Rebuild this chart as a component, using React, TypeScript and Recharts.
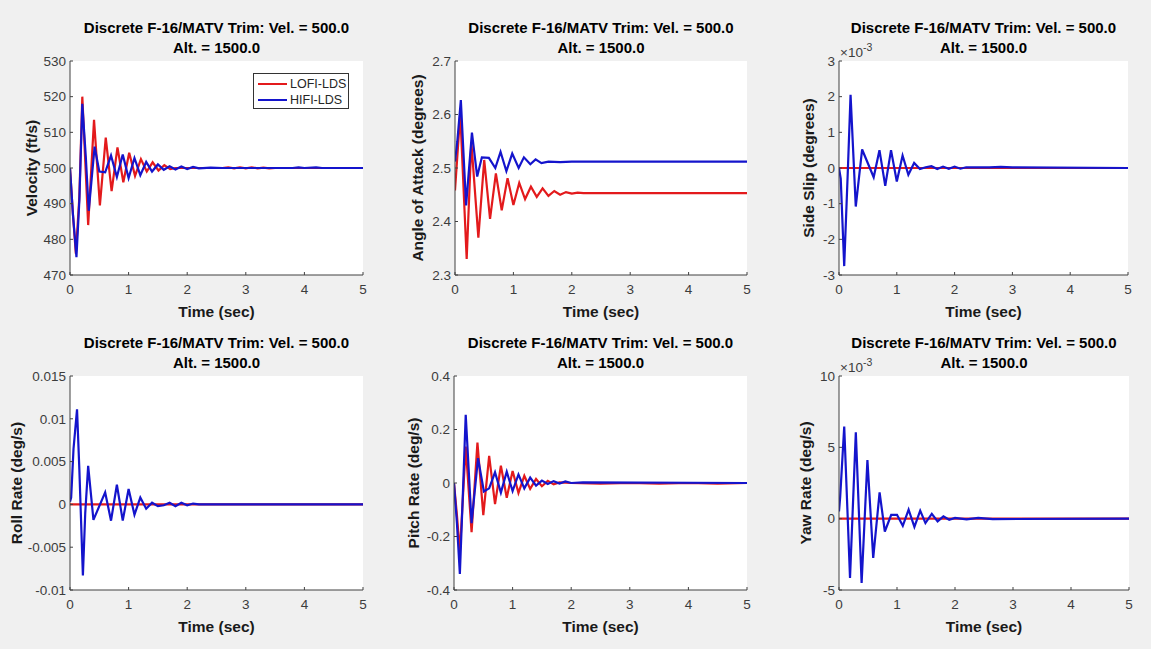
import { LineChart, Line, XAxis, YAxis } from 'recharts';

const FONT = '"Liberation Sans", Arial, Helvetica, sans-serif';
const RED = '#e31a1c';
const BLUE = '#1414cc';
const AXIS = '#404040';
const TICK_TEXT = '#3c3c3c';

const TIME_TICKS = [0, 1, 2, 3, 4, 5];
const TITLE_1 = 'Discrete F-16/MATV Trim: Vel. = 500.0';
const TITLE_2 = 'Alt. = 1500.0';

// Velocity (ft/s)
const velLofiT = [0, 0.05, 0.1, 0.16, 0.21, 0.31, 0.41, 0.51, 0.61, 0.71, 0.81, 0.91, 1.01, 1.11, 1.21, 1.31, 1.41, 1.51, 1.61, 1.71, 1.8, 2.6, 2.7, 2.8, 2.9, 3.0, 3.1, 3.2, 3.3, 3.4, 3.5, 5];
const velLofi = [500, 487, 476, 492, 520, 484, 513.5, 489.5, 508.5, 493.5, 505.8, 496, 504.3, 497.8, 502.5, 499, 501.6, 499.3, 500.8, 499.7, 500, 500, 500.2, 499.9, 500.2, 499.9, 500.2, 499.9, 500.1, 499.9, 500, 500];
const velHifiT = [0, 0.05, 0.11, 0.16, 0.21, 0.27, 0.32, 0.37, 0.42, 0.5, 0.6, 0.7, 0.8, 0.9, 1.0, 1.1, 1.2, 1.3, 1.4, 1.5, 1.6, 1.7, 1.8, 1.9, 2.0, 2.1, 2.2, 2.4, 2.6, 3.8, 3.9, 4.0, 4.2, 4.3, 5];
const velHifi = [500, 487, 475, 491, 518, 503, 488, 497, 506, 499, 498.8, 503.5, 497.5, 503.8, 497.2, 502.8, 498, 501.7, 499, 501, 499.5, 500.5, 499.6, 500.4, 499.7, 500.3, 499.9, 500.1, 500, 500, 500.2, 500, 500.2, 500, 500];
const velTicks = [470, 480, 490, 500, 510, 520, 530];

// Angle of attack (degrees)
const aoaLofiT = [0, 0.09, 0.2, 0.28, 0.4, 0.5, 0.6, 0.7, 0.8, 0.9, 1.0, 1.1, 1.2, 1.3, 1.4, 1.5, 1.6, 1.7, 1.8, 1.9, 2.0, 2.1, 2.2, 5];
const aoaLofi = [2.458, 2.602, 2.33, 2.548, 2.37, 2.515, 2.405, 2.49, 2.421, 2.481, 2.431, 2.472, 2.442, 2.465, 2.446, 2.462, 2.448, 2.457, 2.45, 2.455, 2.452, 2.454, 2.453, 2.453];
const aoaHifiT = [0, 0.04, 0.1, 0.19, 0.29, 0.38, 0.46, 0.58, 0.69, 0.78, 0.88, 0.98, 1.09, 1.18, 1.29, 1.38, 1.48, 1.6, 1.8, 2.0, 5];
const aoaHifi = [2.512, 2.55, 2.627, 2.43, 2.566, 2.484, 2.52, 2.519, 2.5, 2.53, 2.494, 2.527, 2.5, 2.52, 2.507, 2.516, 2.509, 2.512, 2.511, 2.512, 2.512];
const aoaTicks = [2.3, 2.4, 2.5, 2.6, 2.7];

// Side slip (x1e-3 degrees)
const slipLofiT = [0, 5];
const slipLofi = [0, 0];
const slipHifiT = [0, 0.03, 0.09, 0.15, 0.2, 0.29, 0.4, 0.6, 0.7, 0.8, 0.9, 1.0, 1.1, 1.2, 1.3, 1.4, 1.5, 1.6, 1.7, 1.8, 1.9, 2.0, 2.1, 2.2, 2.4, 2.6, 2.8, 3.0, 5];
const slipHifi = [0, -0.3, -2.75, -0.2, 2.05, -1.08, 0.52, -0.26, 0.5, -0.5, 0.5, -0.38, 0.35, -0.19, 0.14, -0.03, 0.02, 0.05, -0.03, 0.04, -0.02, 0.04, -0.02, 0.02, 0.02, 0.02, 0.03, 0.02, 0];
const slipTicks = [-3, -2, -1, 0, 1, 2, 3];

// Roll rate (deg/s)
const rollLofiT = [0, 5];
const rollLofi = [0, 0];
const rollHifiT = [0, 0.02, 0.06, 0.12, 0.16, 0.22, 0.26, 0.31, 0.4, 0.6, 0.7, 0.8, 0.9, 1.0, 1.1, 1.2, 1.3, 1.4, 1.5, 1.6, 1.7, 1.8, 1.9, 2.0, 2.1, 2.2, 5];
const rollHifi = [0.0003, 0.0008, 0.0065, 0.0111, 0.004, -0.0083, -0.001, 0.0045, -0.0018, 0.0014, -0.0019, 0.0023, -0.0019, 0.0018, -0.0012, 0.0008, -0.0005, 0.0002, -0.0002, -0.0001, 0.0002, -0.0002, 0.0002, -0.0001, 0.0001, 0, 0];
const rollTicks = [-0.01, -0.005, 0, 0.005, 0.01, 0.015];

// Pitch rate (deg/s)
const pitchLofiT = [0, 0.05, 0.1, 0.2, 0.3, 0.4, 0.5, 0.6, 0.7, 0.8, 0.9, 1.0, 1.1, 1.2, 1.3, 1.4, 1.5, 1.6, 1.7, 1.8, 2.0, 2.5, 3.0, 3.5, 4.0, 4.5, 5];
const pitchLofi = [0, -0.12, -0.26, 0.136, -0.184, 0.151, -0.12, 0.101, -0.079, 0.065, -0.055, 0.045, -0.037, 0.027, -0.022, 0.015, -0.012, 0.008, -0.005, 0.002, 0, -0.002, 0, -0.002, 0, -0.002, 0];
const pitchHifiT = [0, 0.05, 0.1, 0.15, 0.2, 0.3, 0.41, 0.51, 0.6, 0.7, 0.8, 0.9, 1.0, 1.1, 1.2, 1.3, 1.4, 1.5, 1.6, 1.7, 1.8, 1.9, 2.0, 2.2, 5];
const pitchHifi = [0, -0.15, -0.34, -0.05, 0.255, -0.15, 0.093, -0.032, -0.02, 0.04, -0.036, 0.042, -0.03, 0.032, -0.02, 0.02, -0.01, 0.009, -0.004, 0.007, -0.002, 0.006, 0, 0.002, 0];
const pitchTicks = [-0.4, -0.2, 0, 0.2, 0.4];

// Yaw rate (x1e-3 deg/s)
const yawLofiT = [0, 5];
const yawLofi = [0, 0];
const yawHifiT = [0, 0.02, 0.09, 0.19, 0.29, 0.39, 0.49, 0.59, 0.7, 0.79, 0.9, 1.0, 1.1, 1.2, 1.3, 1.4, 1.49, 1.6, 1.7, 1.8, 1.9, 2.0, 2.2, 2.4, 2.65, 5];
const yawHifi = [0.5, 1.5, 6.45, -4.15, 6.05, -4.5, 4.1, -2.75, 1.85, -0.9, 0.27, 0.27, -0.5, 0.63, -0.58, 0.56, -0.31, 0.34, -0.19, 0.16, -0.08, 0.05, -0.05, 0.05, -0.03, 0];
const yawTicks = [-5, 0, 5, 10];

const pts = (ts: number[], vs: number[]) => ts.map((t, i) => ({ t, v: vs[i] }));

interface Props {
  left: number;
  top: number;
  width: number;
  height: number;
  yTicks: number[];
  yFmt?: (v: number) => string;
  yLabel: string;
  yLabelGap: number;
  lofi: { t: number; v: number }[];
  hifi: { t: number; v: number }[];
  exponent?: boolean;
  legend?: boolean;
}

const ML = 70;
const MT = 61;
const MR = 10;
const MB = 50;

const tickStyle = { fill: TICK_TEXT, fontSize: 13.5, fontFamily: FONT };

const center: React.CSSProperties = {
  position: 'absolute',
  transform: 'translate(-50%, -50%)',
  whiteSpace: 'nowrap',
  fontFamily: FONT,
  lineHeight: 1,
};

const Panel = ({ left, top, width, height, yTicks, yFmt, yLabel, yLabelGap, lofi, hifi, exponent, legend }: Props) => {
  const yDomain = [yTicks[0], yTicks[yTicks.length - 1]];
  const cx = left + width / 2;
  return (
    <>
      <div style={{ position: 'absolute', left, top, width, height, background: '#fff' }} />
      <div style={{ position: 'absolute', left: left - ML, top: top - MT }}>
        <LineChart width={width + ML + MR} height={height + MT + MB} margin={{ top: MT, right: MR, bottom: 0, left: 0 }}>
          <XAxis
            xAxisId="b"
            dataKey="t"
            type="number"
            domain={[0, 5]}
            ticks={TIME_TICKS}
            interval={0}
            allowDataOverflow
            height={MB}
            tickSize={-3}
            tickMargin={12}
            stroke={AXIS}
            tick={tickStyle}
          />
          <XAxis
            xAxisId="t"
            orientation="top"
            dataKey="t"
            type="number"
            domain={[0, 5]}
            ticks={TIME_TICKS}
            interval={0}
            allowDataOverflow
            height={0}
            tickSize={-3}
            stroke={AXIS}
            tick={false}
          />
          <YAxis
            yAxisId="l"
            type="number"
            domain={yDomain}
            ticks={yTicks}
            interval={0}
            allowDataOverflow
            width={ML}
            tickSize={-3}
            tickMargin={7}
            stroke={AXIS}
            tick={tickStyle}
            tickFormatter={yFmt}
          />
          <YAxis
            yAxisId="r"
            orientation="right"
            type="number"
            domain={yDomain}
            ticks={yTicks}
            interval={0}
            allowDataOverflow
            width={0}
            tickSize={-3}
            stroke={AXIS}
            tick={false}
          />
          <Line xAxisId="b" yAxisId="l" data={lofi} dataKey="v" type="linear" stroke={RED} strokeWidth={2.2} dot={false} isAnimationActive={false} />
          <Line xAxisId="b" yAxisId="l" data={hifi} dataKey="v" type="linear" stroke={BLUE} strokeWidth={2.2} dot={false} isAnimationActive={false} />
        </LineChart>
      </div>
      <div style={{ ...center, left: cx, top: top - 34, fontSize: 15, fontWeight: 'bold', color: '#000' }}>{TITLE_1}</div>
      <div style={{ ...center, left: cx, top: top - 14, fontSize: 15, fontWeight: 'bold', color: '#000' }}>{TITLE_2}</div>
      <div
        style={{
          ...center,
          left: left - yLabelGap,
          top: top + height / 2,
          transform: 'translate(-50%, -50%) rotate(-90deg)',
          fontSize: 15.5,
          fontWeight: 'bold',
          color: '#1a1a1a',
        }}
      >
        {yLabel}
      </div>
      <div style={{ ...center, left: cx, top: top + height + 37, fontSize: 15.5, fontWeight: 'bold', color: '#1a1a1a' }}>Time (sec)</div>
      {exponent && (
        <div style={{ position: 'absolute', left: left + 1, top: top - 15, fontSize: 13.5, lineHeight: 1, color: TICK_TEXT, fontFamily: FONT, whiteSpace: 'nowrap' }}>
          ×10<span style={{ position: 'relative', top: -6, fontSize: 10.5 }}>-3</span>
        </div>
      )}
      {legend && (
        <div
          style={{
            position: 'absolute',
            left: left + 183,
            top: top + 12,
            width: 94,
            height: 34,
            background: '#fff',
            border: '1px solid #333',
            fontFamily: FONT,
            fontSize: 12.5,
            color: '#262626',
          }}
        >
          {[
            { name: 'LOFI-LDS', color: RED },
            { name: 'HIFI-LDS', color: BLUE },
          ].map((s, i) => (
            <div key={s.name} style={{ position: 'absolute', left: 4, top: 3 + i * 16, height: 14, display: 'flex', alignItems: 'center' }}>
              <span style={{ display: 'inline-block', width: 29, height: 2, background: s.color, marginRight: 3 }} />
              {s.name}
            </div>
          ))}
        </div>
      )}
    </>
  );
};

export default function App() {
  return (
    <div style={{ position: 'absolute', left: 0, top: 0, width: 1151, height: 649, background: '#f0f0f0', overflow: 'hidden', fontFamily: FONT }}>
      <Panel left={70} top={61} width={293} height={214} yTicks={velTicks} yLabel="Velocity (ft/s)" yLabelGap={38}
        lofi={pts(velLofiT, velLofi)} hifi={pts(velHifiT, velHifi)} legend />
      <Panel left={455} top={61} width={292} height={214} yTicks={aoaTicks} yFmt={(v) => v.toFixed(1)} yLabel="Angle of Attack (degrees)" yLabelGap={37}
        lofi={pts(aoaLofiT, aoaLofi)} hifi={pts(aoaHifiT, aoaHifi)} />
      <Panel left={839} top={61} width={289} height={214} yTicks={slipTicks} yLabel="Side Slip (degrees)" yLabelGap={30}
        lofi={pts(slipLofiT, slipLofi)} hifi={pts(slipHifiT, slipHifi)} exponent />
      <Panel left={70} top={376} width={293} height={214} yTicks={rollTicks} yFmt={(v) => String(v)} yLabel="Roll Rate (deg/s)" yLabelGap={53}
        lofi={pts(rollLofiT, rollLofi)} hifi={pts(rollHifiT, rollHifi)} />
      <Panel left={454} top={376} width={293} height={214} yTicks={pitchTicks} yFmt={(v) => String(v)} yLabel="Pitch Rate (deg/s)" yLabelGap={40}
        lofi={pts(pitchLofiT, pitchLofi)} hifi={pts(pitchHifiT, pitchHifi)} />
      <Panel left={839} top={376} width={290} height={214} yTicks={yawTicks} yLabel="Yaw Rate (deg/s)" yLabelGap={33}
        lofi={pts(yawLofiT, yawLofi)} hifi={pts(yawHifiT, yawHifi)} exponent />
    </div>
  );
}
